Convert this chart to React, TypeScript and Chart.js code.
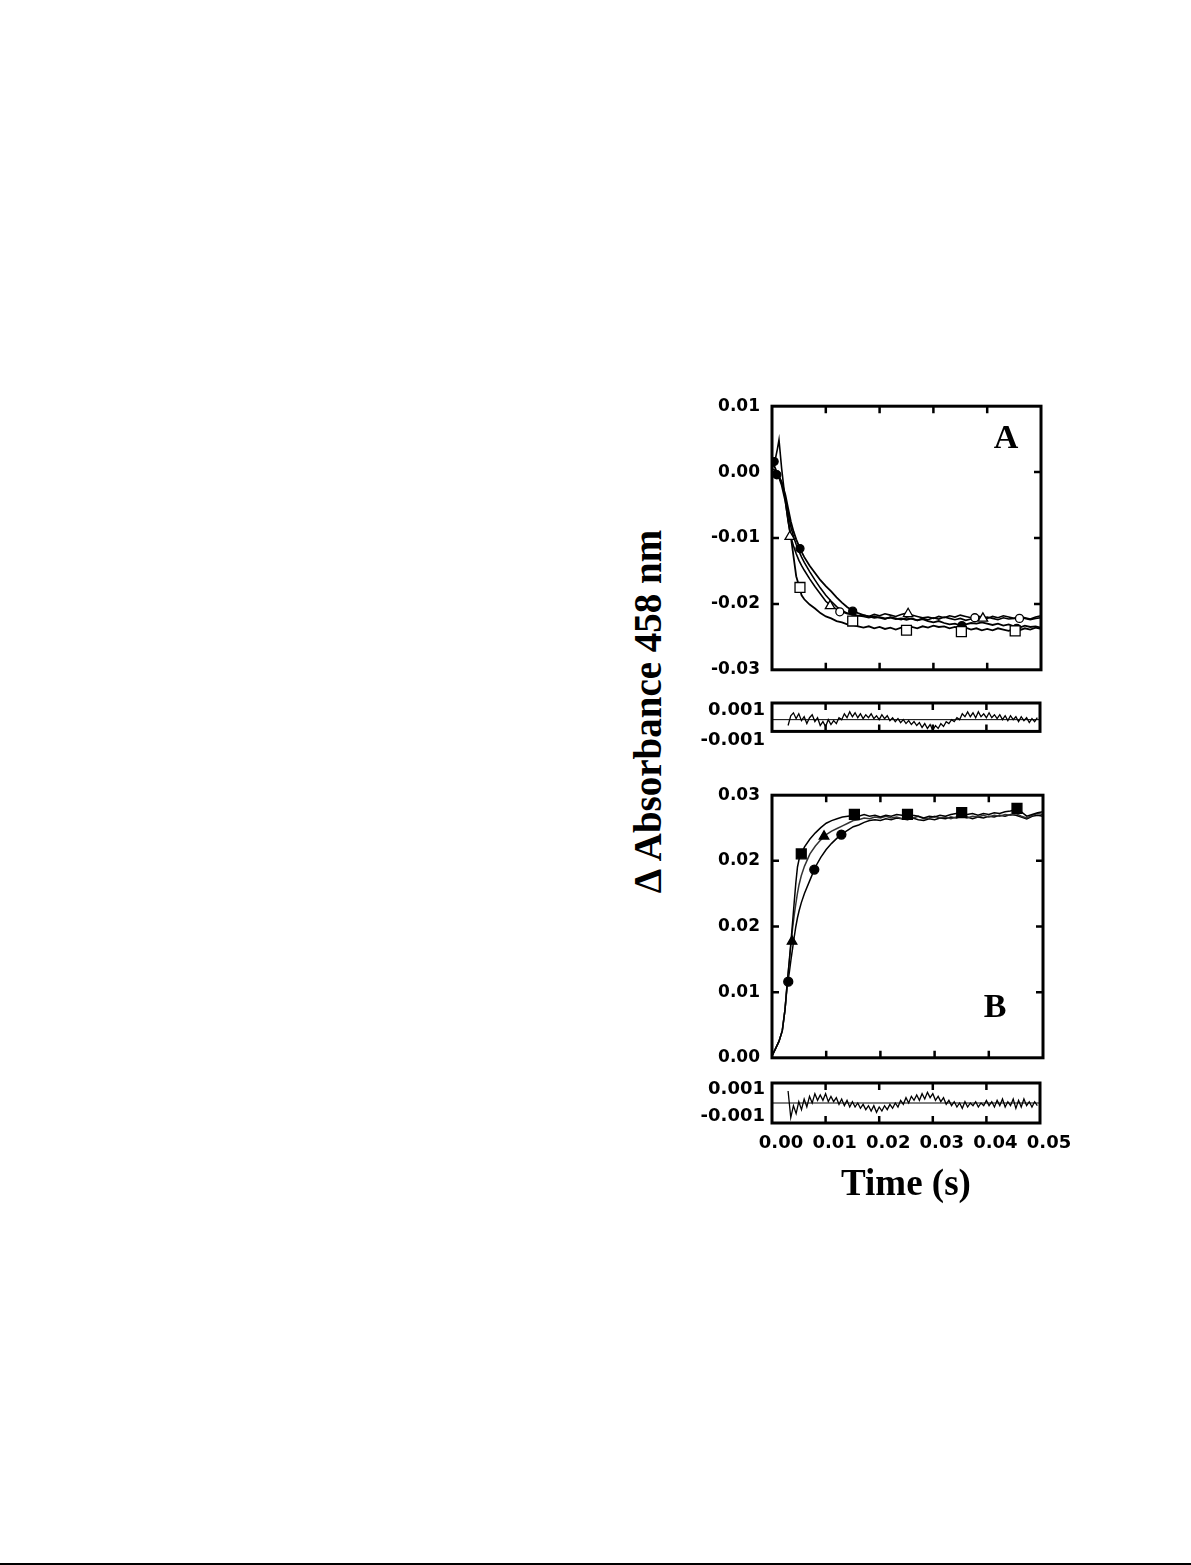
import React, { useEffect, useRef } from "react";
import { Chart, registerables } from "chart.js";

Chart.register(...registerables);

// ---------- Panel A: decay traces ----------
const timeA = [
  0, 0.0005, 0.001, 0.0013, 0.0018, 0.0025, 0.003, 0.0035, 0.004, 0.0045, 0.005, 0.0055, 0.006,
  0.007, 0.008, 0.009, 0.01, 0.011, 0.012, 0.013, 0.014, 0.015, 0.016, 0.017, 0.018, 0.019, 0.02,
  0.021, 0.022, 0.023, 0.024, 0.025, 0.026, 0.027, 0.028, 0.029, 0.03,
  0.031, 0.032, 0.033, 0.034, 0.035, 0.036, 0.037, 0.038, 0.039, 0.04,
  0.041, 0.042, 0.043, 0.044, 0.045, 0.046, 0.047, 0.048, 0.049, 0.05,
];
const squareTraceA = [
  0.0005, 0.0003, -0.0003, -0.0008, -0.002, -0.0045, -0.0072, -0.0098, -0.0128, -0.0158, -0.0172, -0.0187, -0.0193,
  -0.0201, -0.0207, -0.0214, -0.0219, -0.0222, -0.0226, -0.0228, -0.0231, -0.0232, -0.0234, -0.0236, -0.0234, -0.0237, -0.0235,
  -0.0238, -0.0236, -0.0239, -0.0236, -0.0238, -0.0235, -0.0237, -0.0234, -0.0236, -0.0233,
  -0.0235, -0.0234, -0.0237, -0.0235, -0.0238, -0.0236, -0.0239, -0.0237, -0.024, -0.0238,
  -0.024, -0.0237, -0.0239, -0.0241, -0.0238, -0.024, -0.0237, -0.0239, -0.0236, -0.0238,
];
const triangleTraceA = [
  0.0005, 0.0015, 0.0035, 0.0049, 0.0005, -0.0045, -0.0075, -0.0099, -0.0112, -0.0124, -0.0134, -0.0142, -0.0149,
  -0.0162, -0.0174, -0.0185, -0.0196, -0.0203, -0.0208, -0.0212, -0.0215, -0.0216, -0.0218, -0.0217, -0.0219, -0.0216, -0.0218,
  -0.0215, -0.0217, -0.0219, -0.0216, -0.0214, -0.0217, -0.0219, -0.0221, -0.022, -0.0222,
  -0.0219, -0.0221, -0.0218, -0.022, -0.0217, -0.0219, -0.0221, -0.0218, -0.022, -0.0222,
  -0.0219, -0.0221, -0.0218, -0.022, -0.0222, -0.0219, -0.0221, -0.0223, -0.022, -0.0218,
];
const circleTraceA = [
  0.0015, 0.0008, -0.0002, -0.0006, -0.0015, -0.0035, -0.0055, -0.0075, -0.009, -0.0102, -0.0112, -0.0121, -0.0129,
  -0.0142, -0.0153, -0.0164, -0.0173, -0.0181, -0.019, -0.0198, -0.0205, -0.021, -0.0214, -0.0217, -0.0219, -0.0221, -0.022,
  -0.0222, -0.0221, -0.0223, -0.0222, -0.0224, -0.0222, -0.0225, -0.0223, -0.0226, -0.0228,
  -0.0226, -0.0229, -0.0231, -0.023, -0.0233, -0.0231, -0.0229, -0.023, -0.0228, -0.023,
  -0.0232, -0.023, -0.0233, -0.0231, -0.0234, -0.0236, -0.0233, -0.0235, -0.0234, -0.0236,
];
const openTraceA = [
  0.0, 0.0, -0.0004, -0.0008, -0.0016, -0.004, -0.0062, -0.0083, -0.0098, -0.011, -0.012, -0.0129, -0.0137,
  -0.0151, -0.0164, -0.0176, -0.0187, -0.0196, -0.0204, -0.021, -0.0214, -0.0216, -0.0218, -0.0219, -0.0221, -0.0219, -0.0221,
  -0.0223, -0.022, -0.0222, -0.0224, -0.0221, -0.0223, -0.0225, -0.0222, -0.0224, -0.0221,
  -0.0223, -0.022, -0.0222, -0.0224, -0.0222, -0.0225, -0.0223, -0.0221, -0.0222, -0.022,
  -0.0222, -0.0224, -0.0221, -0.0223, -0.0222, -0.022, -0.0222, -0.0224, -0.0222, -0.0221,
];
const squareMarkT_A = [0.0052, 0.015, 0.025, 0.0352, 0.0452];
const squareMarkV_A = [-0.0175, -0.0226, -0.024, -0.0242, -0.0241];
const triMarkT_A = [0.0033, 0.0108, 0.0253, 0.0392];
const triMarkV_A = [-0.0098, -0.0203, -0.0215, -0.0222];
const dotMarkT_A = [0.0004, 0.0009, 0.0052, 0.015, 0.0353, 0.0455];
const dotMarkV_A = [0.0016, -0.0004, -0.0116, -0.0211, -0.0233, -0.0237];
const ringMarkT_A = [0.0126, 0.0377, 0.046];
const ringMarkV_A = [-0.0212, -0.0221, -0.0222];

// ---------- Panel B: rise traces ----------
const timeB = [
  0, 0.0007, 0.0013, 0.0019, 0.0024, 0.0028, 0.0032, 0.0035, 0.0038, 0.0041, 0.0044, 0.0047, 0.005, 0.0054, 0.006,
  0.007, 0.008, 0.009, 0.01, 0.011, 0.012, 0.013, 0.014, 0.015,
  0.016, 0.017, 0.018, 0.019, 0.02, 0.021, 0.022, 0.023, 0.024, 0.025,
  0.026, 0.027, 0.028, 0.029, 0.03, 0.031, 0.032, 0.033, 0.034, 0.035,
  0.036, 0.037, 0.038, 0.039, 0.04, 0.041, 0.042, 0.043, 0.044, 0.045,
  0.046, 0.047, 0.048, 0.049, 0.05,
];
const squareTraceB = [
  0.0002, 0.0011, 0.0019, 0.0031, 0.0055, 0.0085, 0.0112, 0.0133, 0.0155, 0.0178, 0.02, 0.0218, 0.0227, 0.0233, 0.0241,
  0.025, 0.0257, 0.0263, 0.0268, 0.0271, 0.0273, 0.0275, 0.0276, 0.0277,
  0.0276, 0.0278, 0.0276, 0.0277, 0.0275, 0.0277, 0.0276, 0.0278, 0.0277, 0.0279,
  0.0277, 0.0276, 0.0274, 0.0276, 0.0275, 0.0277, 0.0276, 0.0278, 0.0279, 0.028,
  0.0278, 0.0279, 0.0277, 0.0279, 0.0278, 0.028, 0.0279, 0.0281, 0.0282, 0.0284,
  0.0281, 0.0276, 0.0278, 0.028, 0.0281,
];
const triangleTraceB = [
  0.0002, 0.0011, 0.0019, 0.0031, 0.0055, 0.0085, 0.011, 0.013, 0.0148, 0.0163, 0.0176, 0.0188, 0.0198, 0.0208, 0.0219,
  0.0233, 0.0242, 0.0249, 0.0255, 0.0259, 0.0262, 0.0265, 0.0268, 0.0271,
  0.0272, 0.0274, 0.0273, 0.0275, 0.0274, 0.0276, 0.0274, 0.0275, 0.0273, 0.0275,
  0.0274, 0.0276, 0.0273, 0.0274, 0.0276, 0.0274, 0.0275, 0.0273, 0.0275, 0.0276,
  0.0274, 0.0276, 0.0275, 0.0277, 0.0275, 0.0277, 0.0276, 0.0278, 0.0277, 0.0279,
  0.0276, 0.0274, 0.0277, 0.0279, 0.0278,
];
const circleTraceB = [
  0.0002, 0.0011, 0.0019, 0.0031, 0.0055, 0.0082, 0.0098, 0.0112, 0.0125, 0.0138, 0.015, 0.016, 0.0168, 0.0177, 0.0188,
  0.0203, 0.0218, 0.0229, 0.0238, 0.0245, 0.0251, 0.0256, 0.026, 0.0264,
  0.0266, 0.0269, 0.0271, 0.0272, 0.0271, 0.0273, 0.0272, 0.0274, 0.0273, 0.0272,
  0.0274, 0.0272, 0.0271, 0.0273, 0.0272, 0.0274, 0.0273, 0.0275, 0.0274, 0.0276,
  0.0275, 0.0273, 0.0275, 0.0274, 0.0276, 0.0275, 0.0277, 0.0276, 0.0278, 0.0277,
  0.0275, 0.0273, 0.0276, 0.0277, 0.0276,
];
const squareMarkT_B = [0.0054, 0.0152, 0.025, 0.035, 0.0452];
const squareMarkV_B = [0.0233, 0.0278, 0.0278, 0.028, 0.0285];
const triMarkT_B = [0.0037, 0.0096];
const triMarkV_B = [0.0133, 0.0253];
const dotMarkT_B = [0.003, 0.0078, 0.0128];
const dotMarkV_B = [0.0087, 0.0215, 0.0255];

// ---------- Residuals ----------
const residTime = [
  0.003, 0.0035, 0.004, 0.0045, 0.005, 0.0055, 0.006, 0.0065, 0.007, 0.0075,
  0.008, 0.0085, 0.009, 0.0095, 0.01, 0.0105, 0.011, 0.0115, 0.012, 0.0125,
  0.013, 0.0135, 0.014, 0.0145, 0.015, 0.0155, 0.016, 0.0165, 0.017, 0.0175,
  0.018, 0.0185, 0.019, 0.0195, 0.02, 0.0205, 0.021, 0.0215, 0.022, 0.0225,
  0.023, 0.0235, 0.024, 0.0245, 0.025, 0.0255, 0.026, 0.0265, 0.027, 0.0275,
  0.028, 0.0285, 0.029, 0.0295, 0.03, 0.0305, 0.031, 0.0315, 0.032, 0.0325,
  0.033, 0.0335, 0.034, 0.0345, 0.035, 0.0355, 0.036, 0.0365, 0.037, 0.0375,
  0.038, 0.0385, 0.039, 0.0395, 0.04, 0.0405, 0.041, 0.0415, 0.042, 0.0425,
  0.043, 0.0435, 0.044, 0.0445, 0.045, 0.0455, 0.046, 0.0465, 0.047, 0.0475,
  0.048, 0.0485, 0.049, 0.0495,
];
const residA = [
  -0.0006, 0.0004, 0.0007, 0.0001, 0.0006, -0.0001, 0.0003, -0.0004, 0.0002, 0.0005,
  -0.0002, 0.0002, -0.0006, -0.0002, -0.0007, 0.0, -0.0005, -0.0001, -0.0004, 0.0002,
  0.0, 0.0006, 0.0002, 0.0008, 0.0003, 0.0007, 0.0002, 0.0006, 0.0001, 0.0005,
  0.0002, 0.0006, 0.0001, 0.0004, 0.0, 0.0005, 0.0001, 0.0004, -0.0001, 0.0002,
  -0.0002, 0.0001, -0.0003, 0.0, -0.0004, -0.0001, -0.0005, -0.0002, -0.0006, -0.0003,
  -0.0008, -0.0004, -0.0009, -0.0005, -0.0011, -0.0006, -0.0009, -0.0004, -0.0007, -0.0002,
  -0.0004, 0.0, -0.0002, 0.0002, 0.0, 0.0006, 0.0003, 0.0008, 0.0003, 0.0007,
  0.0002, 0.0008, 0.0003, 0.0006, 0.0002, 0.0007, 0.0002, 0.0005, 0.0001, 0.0005,
  0.0, 0.0004, -0.0001, 0.0004, 0.0, 0.0003, -0.0002, 0.0003, -0.0001, 0.0002,
  -0.0003, 0.0001, -0.0002, 0.0002,
];
const residB = [
  0.0009, -0.0011, -0.0002, -0.0008, 0.0001, -0.0005, 0.0003, -0.0003, 0.0005, 0.0,
  0.0007, 0.0002, 0.0006, 0.0002, 0.0007, 0.0001, 0.0005, 0.0001, 0.0004, -0.0001,
  0.0003, -0.0002, 0.0002, -0.0003, 0.0001, -0.0003, 0.0, -0.0004, -0.0001, -0.0005,
  -0.0002, -0.0006, -0.0002, -0.0007, -0.0003, -0.0006, -0.0002, -0.0005, -0.0001, -0.0004,
  0.0, -0.0003, 0.0002, -0.0001, 0.0004, 0.0, 0.0005, 0.0002, 0.0006, 0.0002,
  0.0007, 0.0003, 0.0008, 0.0004, 0.0007, 0.0002, 0.0005, 0.0001, 0.0004, -0.0001,
  0.0002, -0.0002, 0.0001, -0.0003, 0.0, -0.0004, 0.0001, -0.0003, 0.0, -0.0002,
  0.0001, -0.0003, 0.0, -0.0002, 0.0002, -0.0002, 0.0001, -0.0003, 0.0002, -0.0002,
  0.0003, -0.0003, 0.0001, -0.0002, 0.0003, -0.0004, 0.0002, -0.0003, 0.0003, -0.0002,
  0.0001, -0.0003, 0.0001, -0.0002,
];

// ---------- Ticks ----------
const xTickValues = [0, 0.01, 0.02, 0.03, 0.04, 0.05];
const xTickLabels = ["0.00", "0.01", "0.02", "0.03", "0.04", "0.05"];
const yTickValuesA = [-0.03, -0.02, -0.01, 0, 0.01];
const yTickLabelsA = ["-0.03", "-0.02", "-0.01", "0.00", "0.01"];
const yTickValuesB = [0, 0.0075, 0.015, 0.0225, 0.03];
const yTickLabelsB = ["0.00", "0.01", "0.02", "0.02", "0.03"];
const residTickValues = [-0.001, 0, 0.001];
const residTickLabels = ["-0.001", "", "0.001"];

const TICK_FONT = "'DejaVu Sans', 'Liberation Sans', sans-serif";
const SERIF = "'Liberation Serif', 'Times New Roman', serif";

const pts = (xs: number[], ys: number[]) => xs.map((x, i) => ({ x, y: ys[i] }));

function framePlugin(xTicks: number[], yTicks: number[], zero: boolean) {
  return {
    id: "frameTicks",
    beforeDatasetsDraw(chart: any) {
      if (!zero) return;
      const { ctx, chartArea: a, scales } = chart;
      const py = scales.y.getPixelForValue(0);
      ctx.save();
      ctx.strokeStyle = "#000";
      ctx.lineWidth = 1;
      ctx.beginPath();
      ctx.moveTo(a.left, py);
      ctx.lineTo(a.right, py);
      ctx.stroke();
      ctx.restore();
    },
    afterDatasetsDraw(chart: any) {
      const { ctx, chartArea: a, scales } = chart;
      const L = 7;
      ctx.save();
      ctx.strokeStyle = "#000";
      ctx.lineWidth = 2.5;
      ctx.beginPath();
      xTicks.forEach((v) => {
        const px = scales.x.getPixelForValue(v);
        if (px <= a.left + 2 || px >= a.right - 2) return;
        ctx.moveTo(px, a.top);
        ctx.lineTo(px, a.top + L);
        ctx.moveTo(px, a.bottom);
        ctx.lineTo(px, a.bottom - L);
      });
      yTicks.forEach((v) => {
        const py = scales.y.getPixelForValue(v);
        if (py <= a.top + 2 || py >= a.bottom - 2) return;
        ctx.moveTo(a.left, py);
        ctx.lineTo(a.left + L, py);
        ctx.moveTo(a.right, py);
        ctx.lineTo(a.right - L, py);
      });
      ctx.stroke();
      ctx.lineWidth = 3;
      ctx.strokeRect(a.left, a.top, a.right - a.left, a.bottom - a.top);
      ctx.restore();
    },
  };
}

function yScale(min: number, max: number, values: number[], labels: any[], size: number, pad: number) {
  return {
    type: "linear",
    position: "left",
    min,
    max,
    afterBuildTicks: (s: any) => {
      s.ticks = values.map((v) => ({ value: v }));
    },
    afterFit: (s: any) => {
      s.width = 92;
    },
    grid: { display: false, drawTicks: false },
    border: { display: false },
    ticks: {
      autoSkip: false,
      padding: pad,
      color: "#000",
      font: { family: TICK_FONT, weight: "bold", size },
      callback: (_v: any, i: number) => labels[i],
    },
  };
}

const hiddenX = { type: "linear", min: 0, max: 0.05, display: false };

const lineDs = (xs: number[], ys: number[], w = 1.5, color = "#000") => ({
  data: pts(xs, ys),
  borderColor: color,
  borderWidth: w,
  pointRadius: 0,
  fill: false,
  tension: 0,
});
const markDs = (xs: number[], ys: number[], style: string, r: number, fillColor: string) => ({
  data: pts(xs, ys),
  showLine: false,
  pointStyle: style,
  pointRadius: r,
  pointBackgroundColor: fillColor,
  pointBorderColor: "#000",
  pointBorderWidth: 1.3,
  borderColor: "#000",
  backgroundColor: fillColor,
});

const common = {
  responsive: false,
  animation: false,
  events: [],
  plugins: { legend: { display: false }, tooltip: { enabled: false } },
};

export default function App() {
  const refA = useRef<HTMLCanvasElement>(null);
  const refRA = useRef<HTMLCanvasElement>(null);
  const refB = useRef<HTMLCanvasElement>(null);
  const refRB = useRef<HTMLCanvasElement>(null);

  useEffect(() => {
    const charts: Chart[] = [];

    charts.push(
      new Chart(refA.current as HTMLCanvasElement, {
        type: "line",
        data: {
          datasets: [
            markDs(squareMarkT_A, squareMarkV_A, "rect", 7, "#fff"),
            markDs(triMarkT_A, triMarkV_A, "triangle", 5.5, "#fff"),
            markDs(ringMarkT_A, ringMarkV_A, "circle", 4, "#fff"),
            markDs(dotMarkT_A, dotMarkV_A, "circle", 4, "#000"),
            lineDs(timeA, squareTraceA, 1.8),
            lineDs(timeA, triangleTraceA, 1.6),
            lineDs(timeA, openTraceA, 1.6),
            lineDs(timeA, circleTraceA, 1.8),
          ],
        },
        options: {
          ...common,
          layout: { padding: { top: 20, bottom: 20, left: 0, right: 39 } },
          scales: {
            x: hiddenX,
            y: yScale(-0.03, 0.01, yTickValuesA, yTickLabelsA, 17, 12),
          },
        } as any,
        plugins: [framePlugin(xTickValues, yTickValuesA, false)],
      } as any)
    );

    charts.push(
      new Chart(refRA.current as HTMLCanvasElement, {
        type: "line",
        data: { datasets: [lineDs(residTime, residA, 1.3)] },
        options: {
          ...common,
          layout: { padding: { top: 25, bottom: 25, left: 0, right: 40 } },
          scales: {
            x: hiddenX,
            y: yScale(
              -0.0012,
              0.0017,
              residTickValues,
              residTickLabels.map((l, i) => (i === 0 ? ["", l] : l)),
              18,
              7
            ),
          },
        } as any,
        plugins: [framePlugin(xTickValues, [], true)],
      } as any)
    );

    charts.push(
      new Chart(refB.current as HTMLCanvasElement, {
        type: "line",
        data: {
          datasets: [
            markDs(squareMarkT_B, squareMarkV_B, "rect", 7, "#000"),
            markDs(triMarkT_B, triMarkV_B, "triangle", 5.5, "#000"),
            markDs(dotMarkT_B, dotMarkV_B, "circle", 4.5, "#000"),
            lineDs(timeB, squareTraceB, 1.5),
            lineDs(timeB, triangleTraceB, 1.5, "#333"),
            lineDs(timeB, circleTraceB, 1.5),
          ],
        },
        options: {
          ...common,
          layout: { padding: { top: 20, bottom: 20, left: 0, right: 37 } },
          scales: {
            x: hiddenX,
            y: yScale(0, 0.03, yTickValuesB, yTickLabelsB, 17, 12),
          },
        } as any,
        plugins: [framePlugin(xTickValues, yTickValuesB, false)],
      } as any)
    );

    charts.push(
      new Chart(refRB.current as HTMLCanvasElement, {
        type: "line",
        data: { datasets: [lineDs(residTime, residB, 1.3)] },
        options: {
          ...common,
          layout: { padding: { top: 25, bottom: 7, left: 0, right: 40 } },
          scales: {
            x: {
              type: "linear",
              position: "bottom",
              min: 0,
              max: 0.05,
              afterBuildTicks: (s: any) => {
                s.ticks = xTickValues.map((v) => ({ value: v }));
              },
              afterFit: (s: any) => {
                s.height = 40;
              },
              grid: { display: false, drawTicks: false },
              border: { display: false },
              ticks: {
                autoSkip: false,
                maxRotation: 0,
                minRotation: 0,
                padding: 10,
                labelOffset: 9,
                color: "#000",
                font: { family: TICK_FONT, weight: "bold", size: 18 },
                callback: (_v: any, i: number) => xTickLabels[i],
              },
            },
            y: yScale(-0.0015, 0.0015, residTickValues, residTickLabels, 18, 7),
          },
        } as any,
        plugins: [framePlugin(xTickValues, [], true)],
      } as any)
    );

    return () => charts.forEach((c) => c.destroy());
  }, []);

  const abs = (l: number, t: number, w: number, h: number): React.CSSProperties => ({
    position: "absolute",
    left: l,
    top: t,
    width: w,
    height: h,
  });

  return (
    <div style={{ ...abs(0, 0, 1191, 1565), overflow: "hidden", background: "#fff" }}>
      <canvas ref={refA} width={400} height={308} style={abs(680, 384, 400, 308)} />
      <canvas ref={refRA} width={400} height={82} style={abs(680, 678, 400, 82)} />
      <canvas ref={refB} width={400} height={307} style={abs(680, 773, 400, 307)} />
      <canvas ref={refRB} width={400} height={112} style={abs(680, 1058, 400, 112)} />

      <div
        style={{
          ...abs(447, 691.5, 400, 39),
          fontFamily: SERIF,
          fontWeight: "bold",
          fontSize: 39,
          lineHeight: "39px",
          textAlign: "center",
          whiteSpace: "nowrap",
          transform: "rotate(-90deg)",
          color: "#000",
        }}
      >
        Δ Absorbance 458 nm
      </div>
      <div
        style={{
          ...abs(806, 1164, 200, 37),
          fontFamily: SERIF,
          fontWeight: "bold",
          fontSize: 37,
          lineHeight: "37px",
          textAlign: "center",
          whiteSpace: "nowrap",
          color: "#000",
        }}
      >
        Time (s)
      </div>
      <div
        style={{
          ...abs(966, 420, 80, 34),
          fontFamily: SERIF,
          fontWeight: "bold",
          fontSize: 34,
          lineHeight: "34px",
          textAlign: "center",
          color: "#000",
        }}
      >
        A
      </div>
      <div
        style={{
          ...abs(955, 988.5, 80, 34),
          fontFamily: SERIF,
          fontWeight: "bold",
          fontSize: 34,
          lineHeight: "34px",
          textAlign: "center",
          color: "#000",
        }}
      >
        B
      </div>
      <div style={{ ...abs(0, 1563, 1191, 2), background: "#000" }} />
    </div>
  );
}
